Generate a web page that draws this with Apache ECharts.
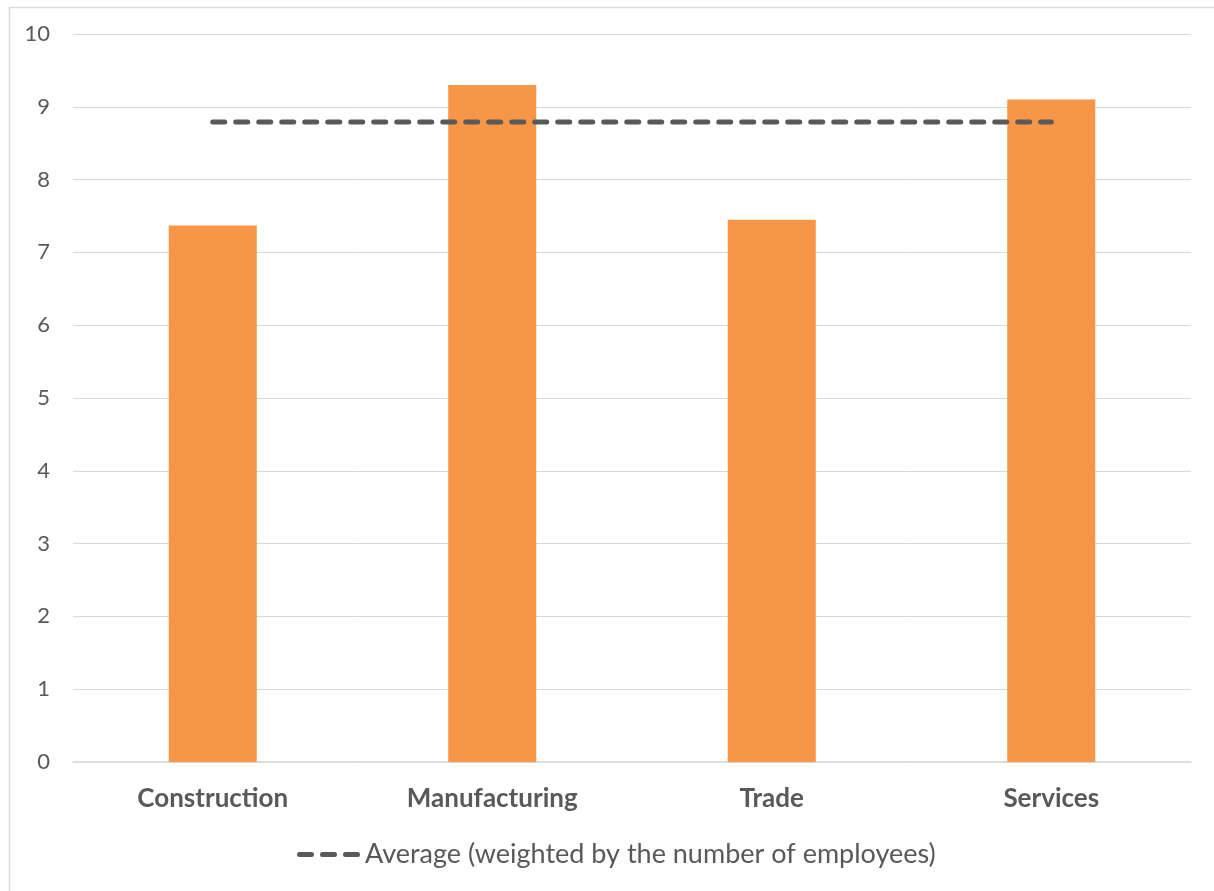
<!DOCTYPE html>
<html>
<head>
<meta charset="utf-8">
<script src="https://cdn.jsdelivr.net/npm/echarts@6/dist/echarts.min.js"></script>
<style>
html,body{margin:0;padding:0;background:#fff;}
#chart{width:1214px;height:891px;}
</style>
</head>
<body>
<div id="chart"></div>
<script>
const categories = ['Construction', 'Manufacturing', 'Trade', 'Services'];
const sectorValues = [7.37, 9.30, 7.45, 9.10];
const averageValues = [8.79, 8.79, 8.79, 8.79];
const averageName = 'Average (weighted by the number of employees)';

const chart = echarts.init(document.getElementById('chart'), null, {renderer: 'canvas'});
const font = "Lato, 'Open Sans', sans-serif";
chart.setOption({
  animation: false,
  backgroundColor: '#fff',
  graphic: [{
    type: 'rect', left: 7, top: 5,
    shape: {width: 1214, height: 900},
    style: {fill: 'none', stroke: '#d9d9d9', lineWidth: 1.5},
    silent: true
  }],
  grid: {left: 73, right: 23, top: 34, bottom: 129, containLabel: false},
  xAxis: {
    type: 'category',
    data: categories,
    axisLine: {show: true, lineStyle: {color: '#d9d9d9', width: 1.5}},
    axisTick: {show: false},
    axisLabel: {color: '#595959', fontFamily: font, fontWeight: 'bold', fontSize: 26, margin: 24}
  },
  yAxis: {
    type: 'value',
    min: 0, max: 10, interval: 1,
    axisLine: {show: false},
    axisTick: {show: false},
    splitLine: {lineStyle: {color: '#d9d9d9', width: 1}},
    axisLabel: {color: '#595959', fontFamily: font, fontSize: 22, margin: 23}
  },
  legend: {
    data: [{
      name: averageName,
      icon: 'path://M2.5,0 h12 a2.5,2.5 0 0 1 0,5 h-12 a2.5,2.5 0 0 1 0,-5 Z M25.5,0 h12 a2.5,2.5 0 0 1 0,5 h-12 a2.5,2.5 0 0 1 0,-5 Z M48.5,0 h12 a2.5,2.5 0 0 1 0,5 h-12 a2.5,2.5 0 0 1 0,-5 Z',
      itemStyle: {color: '#595959'}
    }],
    bottom: 18,
    left: 292,
    itemWidth: 63,
    itemHeight: 5,
    itemGap: 4,
    textStyle: {color: '#595959', fontFamily: font, fontSize: 27}
  },
  series: [
    {
      name: 'Sector',
      type: 'bar',
      data: sectorValues,
      barWidth: '31.5%',
      itemStyle: {color: '#F79646'},
      silent: true
    },
    {
      name: averageName,
      type: 'line',
      data: averageValues,
      symbol: 'none',
      lineStyle: {color: '#595959', width: 5, type: [12, 11], cap: 'round'},
      itemStyle: {color: '#595959'},
      silent: true
    }
  ]
});
</script>
</body>
</html>
